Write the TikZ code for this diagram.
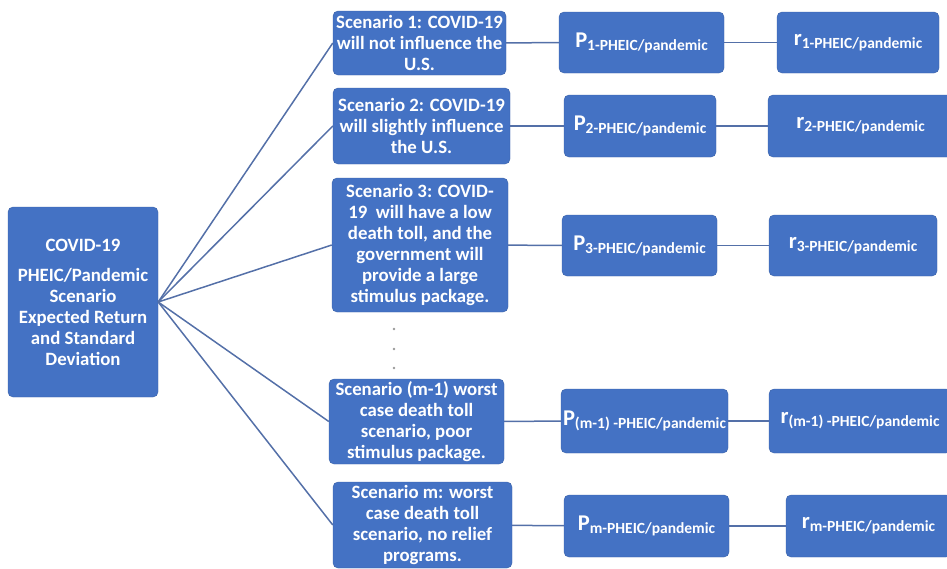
\documentclass[tikz,border=0pt]{standalone}
\usepackage{fontspec}
\setmainfont{Carlito}
\definecolor{boxblue}{RGB}{68,114,196}
\definecolor{linec}{RGB}{84,112,168}
\newcommand{\stxt}{\fontsize{18.8}{21}\selectfont\bfseries}
\newcommand{\pr}[2]{{\fontsize{22.5}{22}\selectfont #1}\raisebox{-0.6ex}{\fontsize{15.5}{15}\selectfont #2}}
\tikzset{
  box/.style={fill=boxblue, draw=boxblue!85!black, line width=0.4pt, rounded corners=5pt, text=white, align=center, inner sep=0pt, font=\stxt},
  pbox/.style={box, font=\bfseries},
  conn/.style={draw=linec, line width=1.5pt}
}
\begin{document}
\begin{tikzpicture}[x=1pt,y=-1pt]
\useasboundingbox (0,0) rectangle (947,568);
% main
\node[box, minimum width=150pt, minimum height=190pt] (main) at (83,302)
  {COVID-19\\[9pt]PHEIC/Pandemic\\Scenario\\Expected Return\\and Standard\\Deviation};
% scenarios
\node[box, minimum width=173pt, minimum height=64pt] (s1) at (419.5,43)
  {Scenario 1: COVID-19\\will not influence the\\U.S.};
\node[box, minimum width=177pt, minimum height=76pt] (s2) at (421.5,126)
  {Scenario 2: COVID-19\\will slightly influence\\the U.S.};
\node[box, minimum width=176pt, minimum height=134pt] (s3) at (420,245)
  {Scenario 3: COVID-\\19~~will have a low\\death toll, and the\\government will\\provide a large\\stimulus package.};
\node[box, minimum width=175pt, minimum height=85pt] (sm1) at (416.5,421.5)
  {Scenario (m-1) worst\\case death toll\\scenario, poor\\stimulus package.};
\node[box, minimum width=179pt, minimum height=86pt] (sm) at (422.5,525)
  {Scenario m: worst\\case death toll\\scenario, no relief\\programs.};
% dots
\foreach \yy/\nm in {329/d1,349/d2,368/d3}
  \fill[gray!80] (394,\yy) circle (1.4pt) coordinate (\nm);
% P boxes
\node[pbox, minimum width=165pt, minimum height=61pt] (p1) at (641.5,42.5) {\pr{P}{1-PHEIC/pandemic}};
\node[pbox, minimum width=152pt, minimum height=62pt] (p2) at (640,126) {\pr{P}{2-PHEIC/pandemic}};
\node[pbox, minimum width=155pt, minimum height=61pt] (p3) at (639.5,245.5) {\pr{P}{3-PHEIC/pandemic}};
\node[pbox, minimum width=167pt, minimum height=64pt] (pm1) at (644.5,421) {\pr{P}{(m-1) -PHEIC/pandemic}};
\node[pbox, minimum width=165pt, minimum height=62pt] (pm) at (646.5,526) {\pr{P}{m-PHEIC/pandemic}};
% r boxes
\node[pbox, minimum width=162pt, minimum height=61pt] (r1) at (858,42.5) {\pr{r}{1-PHEIC/pandemic}};
\node[pbox, minimum width=185pt, minimum height=62pt] (r2) at (860.5,126) {\pr{r}{2-PHEIC/pandemic}};
\node[pbox, minimum width=168pt, minimum height=61pt] (r3) at (853,245.5) {\pr{r}{3-PHEIC/pandemic}};
\node[pbox, minimum width=182pt, minimum height=64pt] (rm1) at (860,421) {\pr{r}{(m-1) -PHEIC/pandemic}};
\node[pbox, minimum width=165pt, minimum height=62pt] (rm) at (868.5,526) {\pr{r}{m-PHEIC/pandemic}};
% connectors
\foreach \s in {s1,s2,s3,sm1,sm}
  \draw[conn] (main.east) -- (\s.west);
\draw[conn] (s1) -- (p1); \draw[conn] (p1) -- (r1);
\draw[conn] (s2) -- (p2); \draw[conn] (p2) -- (r2);
\draw[conn] (s3) -- (p3); \draw[conn] (p3) -- (r3);
\draw[conn] (sm1) -- (pm1); \draw[conn] (pm1) -- (rm1);
\draw[conn] (sm) -- (pm); \draw[conn] (pm) -- (rm);
\end{tikzpicture}
\end{document}
